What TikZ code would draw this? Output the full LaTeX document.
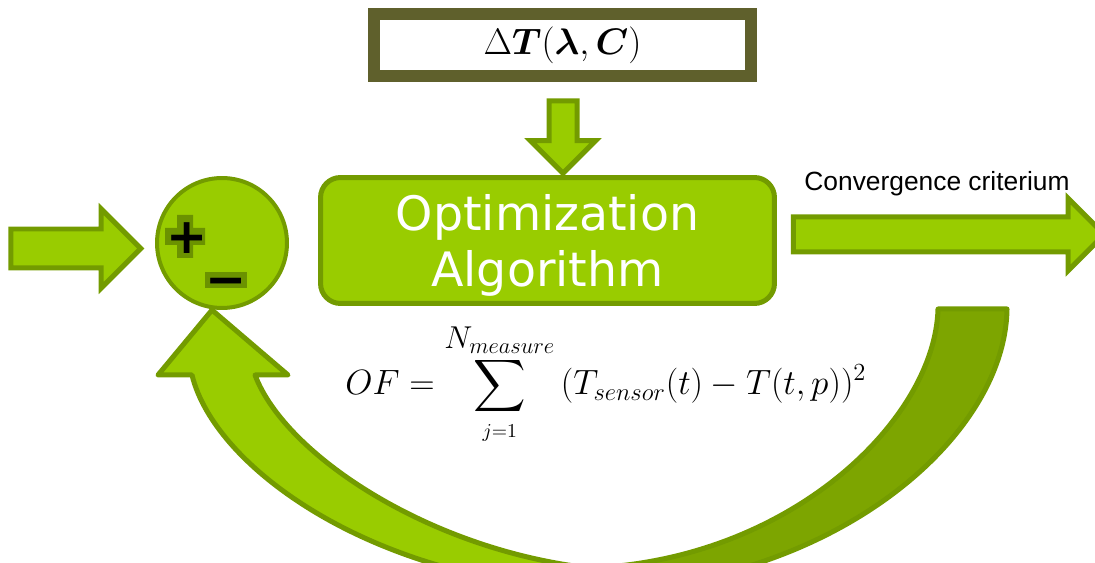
\RequirePackage{fix-cm}
\documentclass[tikz,border=0pt]{standalone}
\usepackage{exscale}
\usepackage{bm}
\usepackage{fontspec}
\usepackage{tikz}
\usetikzlibrary{shapes.arrows}
\newfontfamily\algofont{DejaVu Sans}
\newfontfamily\critfont{Liberation Sans}
\definecolor{ourlime}{HTML}{99CC00}
\definecolor{ouredge}{HTML}{739B00}
\definecolor{ourmoss}{HTML}{7DA500}
\definecolor{ourolive}{HTML}{5F602C}
\definecolor{oursignback}{HTML}{6B9200}

\begin{document}
\begin{tikzpicture}[x=0.02cm, y=-0.02cm]

  \tikzstyle{paramsbox}=[draw=ourolive, fill=white, line width=0.24cm,
                         minimum width=7.54cm, minimum height=1.24cm, inner sep=0pt]
  \tikzstyle{algo}=[draw=ouredge, fill=ourlime, line width=0.1cm,
                    rounded corners=0.4cm, minimum width=9.08cm, minimum height=2.52cm,
                    text=white, align=center, font=\algofont\fontsize{27}{32}\selectfont]
  \tikzstyle{summer}=[draw=ouredge, fill=ourlime, circle, line width=0.08cm,
                      minimum size=2.6cm, inner sep=0pt]
  \tikzstyle{sign}=[inner sep=0pt, font=\algofont\bfseries\fontsize{28}{28}\selectfont]
  \tikzstyle{blockarrow}=[draw=ouredge, fill=ourlime, single arrow, line width=0.1cm,
                          inner sep=0pt, single arrow head extend=0.4cm]
  \tikzstyle{band}=[draw=ouredge, line width=0.1cm, line join=round]

  \useasboundingbox (0,0) rectangle (1095,563);
  \clip (0,0) rectangle (1095,563);

  % feedback loop: back part first, then the front part with its head
  \draw[band, fill=ourmoss]
  (938,309) .. controls (935,420) and (790,560) .. (590,568) -- (600,590)
  .. controls (830,585) and (1005,440) .. (1007,309) -- cycle;
  \draw[band, fill=ourlime]
  (255,375) .. controls (285,455) and (430,550) .. (590,568) -- (600,590)
  .. controls (380,585) and (215,470) .. (192,375) -- (158,375)
  -- (212,310) -- (288,375) -- cycle;

  \path
  (562.5,45) node[paramsbox](params){\fontsize{21}{25}\selectfont
                                     $\Delta\bm{T}(\bm{\lambda},\bm{C})$};

  \path
  (563,130) node[blockarrow, rotate=-90, minimum height=1.45cm, inner ysep=0.23cm,
                 single arrow head extend=0.37cm](feedarrow){};

  \path
  (547.5,240.5) node[algo](algo){\rule{0pt}{26pt}Optimization\\Algorithm};

  \path
  (222,243) node[summer](sum){};

  \fill[oursignback] (165,228) rectangle (205,245) (177,215) rectangle (193,258);
  \fill[oursignback] (205,272) rectangle (247,288);
  \path
  (187,238) node[sign](plus){+}
  (226,287) node[sign](minus){−};

  \path
  (66,248.5) node[blockarrow, minimum height=2.6cm, inner ysep=0.34cm](inarrow){}
  (940,234.5) node[blockarrow, minimum height=6.22cm, inner ysep=0.3cm,
                   single arrow head extend=0.37cm](outarrow){};

  \path
  (937,184) node[font=\critfont\fontsize{15}{18}\selectfont](conv){Convergence criterium};

  \path
  (345,395) node[anchor=base west, inner sep=0pt, font=\fontsize{20}{24}\selectfont](of)
  {$\displaystyle OF = \sum_{\mbox{\fontsize{16}{16}\selectfont$\scriptstyle j=1$}}
     ^{\mbox{\fontsize{25.7}{26}\selectfont$\scriptstyle N_{measure}$}}
     \,(T_{sensor}(t) - T(t,p))^2$};

\end{tikzpicture}
\end{document}
